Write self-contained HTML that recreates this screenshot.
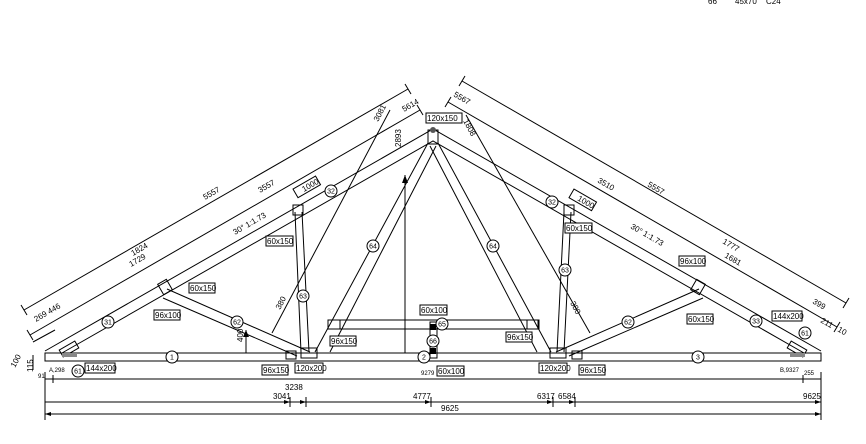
<!DOCTYPE html>
<html><head><meta charset="utf-8"><style>
html,body{margin:0;padding:0;background:#fff;}
svg{display:block;font-family:"Liberation Sans",sans-serif;}
.l{stroke:#000;stroke-width:1;fill:none;}
.t{font-size:8px;fill:#000;}
.b{fill:#fff;stroke:#000;stroke-width:1;}
.c{font-size:7px;}
</style></head><body>
<svg width="866" height="444" viewBox="0 0 866 444" xmlns="http://www.w3.org/2000/svg">
<text x="708" y="4" class="t" font-size="6">66</text><text x="735" y="4" class="t" font-size="6">45x70</text><text x="766" y="4" class="t" font-size="6">C24</text>

<rect x="45" y="353" width="776" height="8" class="l"/>
<polyline class="l" points="45,351 433,129 821,351"/>
<polyline class="l" points="62,353 433,141 804,353"/>
<line class="l" x1="167" y1="289" x2="310" y2="352"/><line class="l" x1="163" y1="298" x2="297" y2="356"/>
<line class="l" x1="295" y1="212" x2="301" y2="352"/><line class="l" x1="302" y1="212" x2="309" y2="352"/>
<line class="l" x1="428" y1="143" x2="315" y2="352"/><line class="l" x1="436" y1="146" x2="330" y2="352"/>
<line class="l" x1="438" y1="143" x2="551" y2="352"/><line class="l" x1="430" y1="146" x2="537" y2="352"/>
<line class="l" x1="571" y1="212" x2="564" y2="352"/><line class="l" x1="564" y1="212" x2="557" y2="352"/>
<line class="l" x1="699" y1="289" x2="556" y2="352"/><line class="l" x1="703" y1="298" x2="569" y2="356"/>
<rect x="328" y="320" width="210" height="9" class="l"/>
<rect x="430" y="322" width="7" height="36" class="l" fill="#fff"/>
<rect x="430" y="324" width="6" height="6" fill="#000"/><rect x="430" y="348" width="6" height="6" fill="#000"/>
<rect x="301" y="348" width="16" height="10" class="l"/><rect x="550" y="348" width="16" height="10" class="l"/>
<rect x="286" y="351" width="10" height="8" class="l"/><rect x="572" y="351" width="10" height="8" class="l"/>
<rect x="328" y="320" width="12" height="9" class="l"/><rect x="527" y="320" width="12" height="9" class="l"/>
<rect x="428" y="130" width="10" height="14" class="l"/>
<circle cx="433" cy="130" r="3" fill="#555"/>
<rect x="160" y="281" width="10" height="12" class="l" transform="rotate(-30 165 287)"/>
<rect x="693" y="281" width="10" height="12" class="l" transform="rotate(30 698 287)"/>
<rect x="293" y="205" width="10" height="10" class="l"/><rect x="564" y="205" width="10" height="10" class="l"/>
<rect x="60" y="345" width="18" height="8" class="l" transform="rotate(-30 69 349)"/>
<rect x="788" y="345" width="18" height="8" class="l" transform="rotate(30 797 349)"/>
<rect x="62" y="353" width="15" height="4" fill="#888"/><rect x="790" y="353" width="15" height="4" fill="#888"/>

<line class="l" x1="405" y1="175" x2="405" y2="353"/><polygon points="405,175 402,183 408,183" fill="#000"/>
<line class="l" x1="246" y1="330" x2="246" y2="353"/><polygon points="246,330 243,337 249,337" fill="#000"/>
<line class="l" x1="390" y1="110" x2="272" y2="333"/>
<line class="l" x1="466" y1="115" x2="590" y2="333"/>
<line class="l" x1="24" y1="310" x2="408" y2="89"/>
<line class="l" x1="30" y1="335" x2="420" y2="110"/>
<line class="l" x1="462" y1="81" x2="846" y2="303"/>
<line class="l" x1="448" y1="102" x2="837" y2="327"/>
<line class="l" x1="33" y1="342" x2="55" y2="330"/>
<g class="l">
<line x1="21" y1="305" x2="27" y2="315"/><line x1="405" y1="84" x2="411" y2="94"/>
<line x1="27" y1="330" x2="33" y2="340"/><line x1="417" y1="105" x2="423" y2="115"/>
<line x1="459" y1="86" x2="465" y2="76"/><line x1="843" y1="308" x2="849" y2="298"/>
<line x1="445" y1="107" x2="451" y2="97"/><line x1="834" y1="332" x2="840" y2="322"/>
</g>
<line class="l" x1="45" y1="379" x2="821" y2="379"/>
<line class="l" x1="45" y1="402" x2="821" y2="402"/>
<line class="l" x1="45" y1="414" x2="821" y2="414"/>
<g class="l">
<line x1="45" y1="372" x2="45" y2="420"/><line x1="821" y1="372" x2="821" y2="420"/>
<line x1="290" y1="397" x2="290" y2="407"/><line x1="306" y1="397" x2="306" y2="407"/>
<line x1="431" y1="397" x2="431" y2="407"/><line x1="553" y1="397" x2="553" y2="407"/>
<line x1="575" y1="397" x2="575" y2="407"/><line x1="53" y1="375" x2="53" y2="383"/>
<line x1="803" y1="375" x2="803" y2="383"/><line x1="33" y1="355" x2="33" y2="370"/>
</g>
<g fill="#000">
<polygon points="290,402 284,400 284,404"/><polygon points="306,402 300,400 300,404"/>
<polygon points="431,402 425,400 425,404"/><polygon points="553,402 547,400 547,404"/>
<polygon points="575,402 569,400 569,404"/><polygon points="821,402 815,400 815,404"/>
<polygon points="821,414 815,412 815,416"/><polygon points="45,414 51,412 51,416"/>
</g>
<g class="t">
<text x="285" y="390">3238</text><text x="273" y="399">3041</text><text x="413" y="399">4777</text>
<text x="537" y="399">6317</text><text x="558" y="399">6584</text><text x="803" y="399">9625</text>
<text x="441" y="411">9625</text><text x="421" y="375" font-size="6">9279</text>
<text x="38" y="378" font-size="6">91</text><text x="49" y="372" font-size="6">A,298</text>
<text x="780" y="372" font-size="6">B,9327</text><text x="804" y="375" font-size="6">255</text>
</g>
<g class="t">
<text transform="translate(205,200) rotate(-30)">5557</text>
<text transform="translate(260,193) rotate(-30)">3557</text>
<text transform="translate(133,256) rotate(-30)">1824</text>
<text transform="translate(131,267) rotate(-30)">1729</text>
<text transform="translate(235,235) rotate(-30)">30° 1:1.73</text>
<text transform="translate(36,322) rotate(-30)">269 446</text>
<text transform="translate(378,122) rotate(-62)">3081</text>
<text transform="translate(404,112) rotate(-30)">5614</text>
<text transform="translate(401,147) rotate(-90)">2893</text>
<text transform="translate(453,96) rotate(30)">5567</text>
<text transform="translate(463,121) rotate(62)">1808</text>
<text transform="translate(597,182) rotate(30)">3510</text>
<text transform="translate(647,186) rotate(30)">5557</text>
<text transform="translate(630,228) rotate(30)">30° 1:1.73</text>
<text transform="translate(722,243) rotate(30)">1777</text>
<text transform="translate(724,257) rotate(30)">1681</text>
<text transform="translate(812,303) rotate(30)">399</text>
<text transform="translate(820,322) rotate(30)">211</text>
<text transform="translate(837,331) rotate(30)">10</text>
<text transform="translate(243,342) rotate(-90)">400</text>
<text transform="translate(280,310) rotate(-62)">380</text>
<text transform="translate(570,303) rotate(62)">380</text>
<text transform="translate(15,368) rotate(-62)">100</text>
<text transform="translate(33,372) rotate(-90)">115</text>
</g>
<g class="t">
<rect class="b" x="426" y="113" width="36" height="10"/><text x="427" y="121">120x150</text>
<rect class="b" x="266" y="236" width="27" height="10"/><text x="267" y="244">60x150</text>
<rect class="b" x="189" y="283" width="26" height="10"/><text x="190" y="291">60x150</text>
<rect class="b" x="154" y="310" width="26" height="10"/><text x="155" y="318">96x100</text>
<rect class="b" x="85" y="363" width="30" height="10"/><text x="86" y="371">144x200</text>
<rect class="b" x="262" y="365" width="26" height="10"/><text x="263" y="373">96x150</text>
<rect class="b" x="295" y="363" width="28" height="10"/><text x="296" y="371">120x200</text>
<rect class="b" x="330" y="336" width="26" height="10"/><text x="331" y="344">96x150</text>
<rect class="b" x="420" y="305" width="27" height="10"/><text x="421" y="313">60x100</text>
<rect class="b" x="437" y="366" width="27" height="10"/><text x="438" y="374">60x100</text>
<rect class="b" x="506" y="332" width="26" height="10"/><text x="507" y="340">96x150</text>
<rect class="b" x="539" y="363" width="28" height="10"/><text x="540" y="371">120x200</text>
<rect class="b" x="579" y="365" width="26" height="10"/><text x="580" y="373">96x150</text>
<rect class="b" x="565" y="223" width="27" height="10"/><text x="566" y="231">60x150</text>
<rect class="b" x="679" y="256" width="26" height="10"/><text x="680" y="264">96x100</text>
<rect class="b" x="687" y="314" width="26" height="10"/><text x="688" y="322">60x150</text>
<rect class="b" x="772" y="311" width="30" height="10"/><text x="773" y="319">144x200</text>
<g transform="translate(297,196) rotate(-30)"><rect class="b" x="0" y="-8" width="26" height="10"/><text x="8" y="0">1000</text></g>
<g transform="translate(570,196) rotate(30)"><rect class="b" x="0" y="-8" width="26" height="10"/><text x="8" y="0">1000</text></g>
</g>
<g class="t c" text-anchor="middle">
<g fill="#fff" stroke="#000"><circle cx="108" cy="322" r="6"/><circle cx="331" cy="191" r="6"/><circle cx="237" cy="322" r="6"/><circle cx="303" cy="296" r="6"/><circle cx="373" cy="246" r="6"/><circle cx="442" cy="324" r="6"/><circle cx="433" cy="341" r="6"/><circle cx="172" cy="357" r="6"/><circle cx="424" cy="357" r="6"/><circle cx="698" cy="357" r="6"/><circle cx="78" cy="371" r="6"/><circle cx="805" cy="333" r="6"/><circle cx="493" cy="246" r="6"/><circle cx="565" cy="270" r="6"/><circle cx="628" cy="322" r="6"/><circle cx="756" cy="321" r="6"/><circle cx="552" cy="202" r="6"/></g>
<text x="108" y="324.5">31</text><text x="331" y="193.5">32</text><text x="237" y="324.5">62</text><text x="303" y="298.5">63</text><text x="373" y="248.5">64</text><text x="442" y="326.5">65</text><text x="433" y="343.5">66</text><text x="172" y="359.5">1</text><text x="424" y="359.5">2</text><text x="698" y="359.5">3</text><text x="78" y="373.5">61</text><text x="805" y="335.5">61</text><text x="493" y="248.5">64</text><text x="565" y="272.5">63</text><text x="628" y="324.5">62</text><text x="756" y="323.5">33</text><text x="552" y="204.5">32</text>
</g>
</svg>
</body></html>
